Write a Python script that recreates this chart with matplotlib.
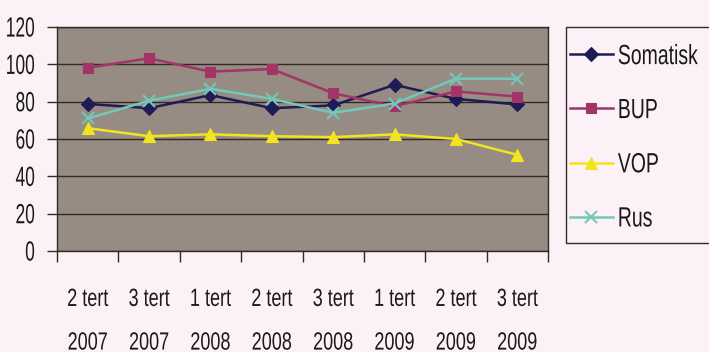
import matplotlib
matplotlib.use("Agg")
import matplotlib.pyplot as plt
from matplotlib.patches import Rectangle
from matplotlib.patheffects import AbstractPathEffect
from matplotlib.transforms import Affine2D

# Periods (tertials) on the x axis
periods = ["2 tert\n2007", "3 tert\n2007", "1 tert\n2008", "2 tert\n2008",
           "3 tert\n2008", "1 tert\n2009", "2 tert\n2009", "3 tert\n2009"]

somatisk = [78.8, 76.5, 83.5, 76.5, 78.0, 89.0, 81.5, 78.5]
bup = [98.2, 103.2, 96.1, 97.5, 84.5, 77.5, 85.5, 82.7]
vop = [65.8, 61.5, 62.5, 61.5, 61.0, 62.5, 60.0, 51.5]
rus = [71.0, 80.5, 86.9, 81.5, 74.0, 79.0, 92.3, 92.3]

y_ticks = [0, 20, 40, 60, 80, 100, 120]


class Tall(AbstractPathEffect):
    """Draw glyphs stretched vertically about their middle (a narrow-font look)."""

    def __init__(self, sy=1.4):
        super().__init__()
        self.sy = sy

    def draw_path(self, renderer, gc, tpath, affine, rgbFace=None):
        ext = tpath.get_extents()
        cy = (ext.y0 + ext.y1) / 2
        t = Affine2D().translate(0, -cy).scale(1, self.sy).translate(0, cy) + affine
        renderer.draw_path(gc, tpath, t, rgbFace)


plt.rcParams["font.family"] = ["Liberation Sans", "DejaVu Sans"]

W, H = 709, 352
bg = "#fbf1f6"
ink = "#2f2a26"
txt = "#1a1a1a"
fig = plt.figure(figsize=(W / 100, H / 100), dpi=100, facecolor=bg)
ax = fig.add_axes([57 / W, 1 - 251 / H, (548 - 57) / W, (251 - 27) / H])
ax.set_facecolor("#978c83")

x = [i + 0.5 for i in range(len(periods))]
series = [
    ("Somatisk", somatisk, "#1e1b55", "D", 7),
    ("BUP", bup, "#a23468", "s", 7),
    ("VOP", vop, "#f2e41e", "^", 8),
    ("Rus", rus, "#72c9b9", "x", 8),
]
handles = []
for name, vals, col, mk, ms in series:
    h, = ax.plot(x, vals, color=col, lw=1.8, marker=mk, ms=ms,
                 markeredgewidth=1.5 if mk == "x" else 0.8,
                 markeredgecolor=col, markerfacecolor=col, label=name, zorder=3)
    handles.append(h)

ax.set_ylim(0, 120)
ax.set_xlim(0, len(periods))
ax.set_yticks(y_ticks)
ax.yaxis.grid(True, color=ink, lw=1.0)
ax.set_axisbelow(True)
ax.tick_params(axis="y", labelsize=12.5, length=7, width=1.0, color=ink, pad=9,
               labelcolor=txt)

ax.set_xticks(range(len(periods) + 1))
ax.set_xticklabels([])
ax.set_xticks(x, minor=True)
ax.set_xticklabels(periods, minor=True, fontsize=13, linespacing=3.05, color=txt)
ax.tick_params(axis="x", which="major", length=8, width=1.0, color=ink)
ax.tick_params(axis="x", which="minor", length=0, pad=28.5)

for lbl in ax.get_yticklabels():
    lbl.set_path_effects([Tall(1.6)])
for lbl in ax.get_xticklabels(minor=True):
    lbl.set_path_effects([Tall(1.38)])

for s in ax.spines.values():
    s.set_color(ink)
    s.set_linewidth(1.0)

# Legend box, running off the right edge of the figure
fig.patches.append(Rectangle((566 / W, 1 - 243 / H), 160 / W, (243 - 27) / H,
                             transform=fig.transFigure, facecolor=bg,
                             edgecolor=ink, lw=1.0, zorder=1))

leg = fig.legend(handles=handles, loc="upper left",
                 bbox_to_anchor=(570 / W, 1 - 47.5 / H),
                 bbox_transform=fig.transFigure, fontsize=14,
                 frameon=False, borderaxespad=0, borderpad=0,
                 labelspacing=1.88, handlelength=2.2, handletextpad=0.26)
leg.set_zorder(2)
for t in leg.get_texts():
    t.set_path_effects([Tall(1.43)])
    t.set_color(txt)

fig.savefig("out.png", dpi=100, facecolor=bg)
